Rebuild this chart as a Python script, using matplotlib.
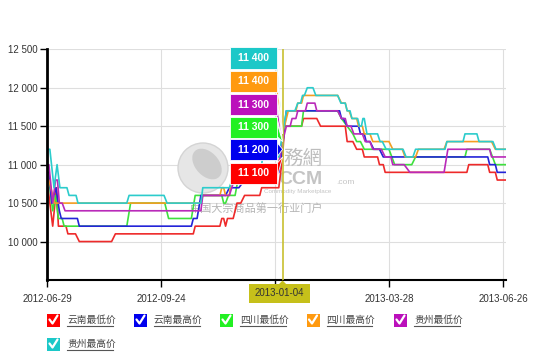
import matplotlib
matplotlib.use("Agg")
import matplotlib.pyplot as plt
from matplotlib.patches import Rectangle, Polygon, Ellipse
from matplotlib.ticker import FuncFormatter
import numpy as np

plt.rcParams['font.family'] = ['Liberation Sans', 'Noto Sans CJK SC', 'DejaVu Sans']

# ---------------- data (x = trading-day index) ----------------
tick_pos = [0, 60, 120, 180, 240]
tick_labels = ["2012-06-29", "2012-09-24", "2013-01-04", "2013-03-28", "2013-06-26"]
y_ticks = [10000, 10500, 11000, 11500, 12000, 12500]
cross_idx = 124
cross_label = "2013-01-04"

series_names = ["云南最低价", "云南最高价", "四川最低价", "四川最高价", "贵州最低价", "贵州最高价"]
series_colors = ["#ee2a2a", "#2424d8", "#3ee03e", "#f59d22", "#b92ab9", "#2ccccc"]
box_colors = ["#ff0000", "#0000ee", "#22f022", "#ff9a10", "#bb10bb", "#1cc8c8"]

red_x = [0, 0.5, 3, 5, 6, 10, 11, 15, 17, 34, 36, 77, 78, 91, 92, 93, 94, 95, 98, 100, 102, 104, 112, 113, 122,
         124, 125, 134, 135, 142, 144, 157, 158, 161, 163, 166, 167, 174, 175, 177, 178, 221, 222, 232, 233, 236, 237, 241.6]
red_v = [10700, 10700, 10200, 10700, 10200, 10200, 10100, 10100, 10000, 10000, 10100, 10100, 10200, 10200, 10300,
         10300, 10200, 10300, 10300, 10500, 10500, 10600, 10600, 10700, 10700, 11100, 11500, 11500, 11600, 11600,
         11500, 11500, 11300, 11300, 11200, 11200, 11100, 11100, 11000, 11000, 10900, 10900, 11000, 11000, 10900,
         10900, 10800, 10800]

blue_x = [0, 1, 2.5, 4.7, 6.5, 7.5, 16, 17, 76, 77, 79, 81, 94, 96, 101, 104, 117, 119, 122, 124, 125, 126, 154, 155,
          156, 158, 164, 165, 167, 168, 170, 172, 175, 177, 232, 233, 236, 237, 241.6]
blue_v = [10900, 10900, 10500, 10700, 10400, 10300, 10300, 10200, 10200, 10300, 10300, 10600, 10600, 10700, 10700,
          10800, 10800, 10900, 10900, 11200, 11500, 11700, 11700, 11600, 11600, 11500, 11500, 11400, 11400, 11300,
          11300, 11200, 11200, 11100, 11100, 11000, 11000, 10900, 10900]

green_x = [0, 1, 3, 4.5, 6, 8, 9, 42, 44, 62, 64, 76, 78, 92, 93, 94, 95.5, 99, 100.5, 112, 113.5, 122, 124, 125,
           134, 135, 153, 155, 158, 161, 163, 165, 167, 180, 183, 192, 194, 220, 221, 233, 236, 241.6]
green_v = [10800, 10800, 10400, 10600, 10300, 10300, 10200, 10200, 10500, 10500, 10300, 10300, 10600, 10600, 10500,
           10500, 10600, 10600, 10800, 10800, 11000, 11000, 11300, 11500, 11500, 11700, 11700, 11600, 11500, 11400,
           11300, 11300, 11200, 11200, 11000, 11000, 11100, 11100, 11200, 11200, 11000, 11000]

orange_x = [0, 1, 4, 81, 82, 91, 92, 93, 94, 96, 97, 112, 113.5, 122, 124, 125, 127, 131, 132, 134, 135, 153, 155,
            157, 158, 159, 160.5, 163, 164, 166, 167, 170, 171.5, 180, 182, 187, 188.5, 194, 195.5, 209, 210.5, 234,
            236, 241.6]
orange_v = [10800, 10800, 10500, 10500, 10600, 10600, 10700, 10700, 10600, 10600, 10800, 10800, 11000, 11000, 11400,
            11500, 11700, 11700, 11800, 11800, 11900, 11900, 11800, 11800, 11700, 11700, 11600, 11600, 11500, 11500,
            11400, 11400, 11300, 11300, 11200, 11200, 11100, 11100, 11200, 11200, 11300, 11300, 11200, 11200]

magenta_x = [0, 1, 3, 4.5, 5.5, 6.5, 8, 9.5, 81, 82, 96, 98.5, 112, 113.5, 122, 124, 126, 128, 129, 131, 132, 136,
             137, 141, 142, 153, 155, 157, 158, 160, 161.5, 166, 167.5, 170, 171.5, 176, 178, 181, 182, 188, 191, 209,
             211, 233, 234, 241.6]
magenta_v = [11000, 11000, 10500, 10800, 10800, 10500, 10500, 10400, 10400, 10600, 10600, 10800, 10800, 11000, 11000,
             11300, 11500, 11500, 11600, 11600, 11700, 11700, 11800, 11800, 11700, 11700, 11600, 11600, 11500, 11500,
             11400, 11400, 11300, 11300, 11200, 11200, 11100, 11100, 11000, 11000, 10900, 10900, 11200, 11200, 11100,
             11100]

cyan_x = [0, 1.5, 3.7, 5.3, 6.8, 10.5, 11.6, 15.3, 16.3, 42, 43.2, 61.6, 63.2, 81, 82, 96, 97.4, 112, 113.5, 122,
          124, 126, 130.5, 132, 133.5, 134.5, 135.5, 137, 140, 141.5, 153, 154.7, 157, 158, 159.5, 160.5, 163.5,
          164.5, 165.5, 166.3, 167, 168.4, 174, 175.3, 176.5, 178.5, 187.4, 189, 192.6, 194, 209.5, 210.5, 219, 220,
          226.3, 227.4, 234.7, 236.3, 241.6]
cyan_v = [11200, 11200, 10700, 11000, 10700, 10700, 10600, 10600, 10500, 10500, 10600, 10600, 10500, 10500, 10700,
          10700, 10800, 10800, 11100, 11100, 11400, 11700, 11700, 11800, 11800, 11900, 11900, 12000, 12000, 11900,
          11900, 11800, 11800, 11700, 11700, 11600, 11600, 11500, 11500, 11600, 11600, 11400, 11400, 11300, 11300,
          11200, 11200, 11100, 11100, 11200, 11200, 11300, 11300, 11400, 11400, 11300, 11300, 11200, 11200]

series_x = [red_x, blue_x, green_x, orange_x, magenta_x, cyan_x]
series_v = [red_v, blue_v, green_v, orange_v, magenta_v, cyan_v]

# ---------------- figure ----------------
W, H = 533, 355
fig = plt.figure(figsize=(W / 100, H / 100), dpi=100)
fig.patch.set_facecolor("white")


def fx(px):
    return px / W


def fy(py):
    return 1 - py / H


ax = fig.add_axes([fx(47), fy(280), (506 - 47) / W, (280 - 49.3) / H])
ax.patch.set_alpha(0)
ax.set_xlim(0, 241.6)
ax.set_ylim(9500, 12500)

ax.set_yticks(y_ticks)
ax.yaxis.set_major_formatter(FuncFormatter(lambda v, p: f"{int(v):,}".replace(",", " ")))
ax.set_xticks(tick_pos)
ax.set_xticklabels(tick_labels)
ax.tick_params(axis="y", length=5, width=1, color="black", labelsize=7, labelcolor="#333333", pad=2)
ax.tick_params(axis="x", length=5, width=1, color="black", labelsize=7, labelcolor="#333333", pad=5)
ax.grid(True, color="#dedede", linewidth=0.8, zorder=0)
ax.set_axisbelow(True)
for s in ["top", "right"]:
    ax.spines[s].set_visible(False)
ax.spines["left"].set_linewidth(2)
ax.spines["bottom"].set_linewidth(1.5)
# the tick label under the crosshair date box is covered by it in the reference
for lbl in ax.get_xticklabels():
    if lbl.get_text() == cross_label:
        lbl.set_visible(False)

# watermark
ax.add_patch(Ellipse((fx(203), fy(168)), 50 / W, 50 / H, transform=fig.transFigure, facecolor="#e6e6e6",
                     edgecolor="#d4d4d4", lw=1, zorder=0.6))
ax.add_patch(Ellipse((fx(207), fy(164)), 26 / W, 32 / H, angle=20, transform=fig.transFigure,
                     facecolor="#cdcdcd", edgecolor="none", zorder=0.61))
ax.text(fx(303), fy(158), "務網", transform=fig.transFigure, ha="center", va="center", fontsize=14,
        color="#bdbdbd", family=["Noto Sans CJK TC", "DejaVu Sans"], zorder=0.6)
ax.text(fx(300), fy(180), "CCM", transform=fig.transFigure, ha="center", va="center", fontsize=14,
        color="#c4c4c4", fontweight="bold", zorder=0.6)
ax.text(fx(336), fy(183), ".com", transform=fig.transFigure, ha="left", va="center", fontsize=6,
        color="#c4c4c4", zorder=0.6)
ax.text(fx(298), fy(192), "Commodity Marketplace", transform=fig.transFigure, ha="center", va="center",
        fontsize=4.5, color="#c4c4c4", zorder=0.6)
ax.text(fx(257), fy(209), "中国大宗商品第一行业门户", transform=fig.transFigure, ha="center", va="center",
        fontsize=8, color="#b5b5b5", family=["Noto Sans CJK SC", "DejaVu Sans"], zorder=0.6)

# lines (blue drawn above green)
order = [0, 2, 1, 3, 4, 5]
for i in order:
    ax.plot(series_x[i], series_v[i], color=series_colors[i], lw=1.2, zorder=2 + order.index(i) * 0.01,
            solid_joinstyle="round")

# crosshair
ax.axvline(cross_idx, color="#c8c030", lw=1.2, zorder=3)
cross_px = ax.transData.transform((cross_idx, 0))[0]

# tooltip boxes
box_top = [47.5, 70.7, 94.0, 116.7, 139.3, 162.7]
box_order = [5, 3, 4, 2, 1, 0]
for k, si in enumerate(box_order):
    xs = series_x[si]
    vs = series_v[si]
    val = vs[xs.index(cross_idx)]
    top = box_top[k]
    bot = top + 21
    tip_y_disp = ax.transData.transform((cross_idx, val))[1]
    tip = (cross_px / W, tip_y_disp / H)
    poly = Polygon([(fx(276), fy(top + 2)), tip, (fx(276), fy(bot - 2))], closed=True,
                   transform=fig.transFigure, facecolor=box_colors[si], edgecolor="white", lw=0.6, zorder=5)
    fig.add_artist(poly)
    rect = Rectangle((fx(230), fy(bot)), 47 / W, 21 / H, transform=fig.transFigure,
                     facecolor=box_colors[si], edgecolor="white", lw=0.6, zorder=6)
    fig.add_artist(rect)
    fig.text(fx(253.5), fy((top + bot) / 2), f"{val:,}".replace(",", " "), ha="center", va="center",
             color="white", fontsize=7.5, fontweight="bold", zorder=7)

# crosshair date label
fig.add_artist(Rectangle((fx(249), fy(303)), 61 / W, 19 / H, transform=fig.transFigure,
                         facecolor="#c6c01a", edgecolor="none", zorder=6))
fig.add_artist(Polygon([(cross_px / W - 4 / W, fy(284.5)), (cross_px / W, fy(280.5)),
                        (cross_px / W + 4 / W, fy(284.5))], closed=True, transform=fig.transFigure,
                       facecolor="#c6c01a", edgecolor="none", zorder=6))
fig.text(fx(279.5), fy(293.5), cross_label, ha="center", va="center", fontsize=7, color="#333333", zorder=7)

# legend
leg_pos = [(47, 320), (134, 320), (220, 320), (306.5, 320), (394, 320), (47, 344)]
for i, (lx, ly) in enumerate(leg_pos):
    fig.add_artist(Rectangle((fx(lx), fy(ly + 6.5)), 13 / W, 13 / H, transform=fig.transFigure,
                             facecolor=box_colors[i], edgecolor="none", zorder=6))
    fig.add_artist(plt.Line2D([fx(lx + 2.5), fx(lx + 5.5), fx(lx + 10.5)],
                              [fy(ly - 0.5), fy(ly + 3.5), fy(ly - 4.5)],
                              transform=fig.transFigure, color="white", lw=1.6, zorder=7,
                              solid_capstyle="round"))
    fig.text(fx(lx + 20), fy(ly), series_names[i], ha="left", va="center", fontsize=7, color="#444444",
             family=["Noto Sans CJK SC", "DejaVu Sans"], zorder=7)
    fig.add_artist(plt.Line2D([fx(lx + 20), fx(lx + 66)], [fy(ly + 6), fy(ly + 6)],
                              transform=fig.transFigure, color="#555555", lw=0.8, zorder=7))

fig.savefig("out.png", dpi=100, facecolor="white")
